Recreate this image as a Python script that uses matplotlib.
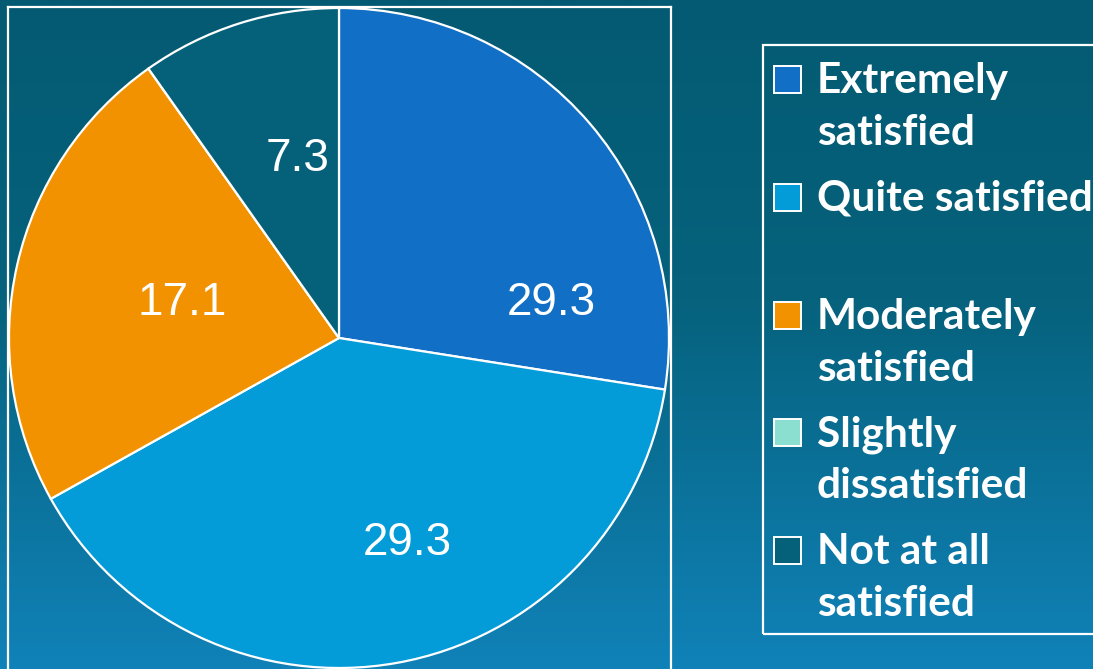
import numpy as np
import matplotlib
matplotlib.use('Agg')
import matplotlib.pyplot as plt
from matplotlib.patches import Rectangle
from matplotlib.colors import LinearSegmentedColormap

# Satisfaction categories, slice shares and printed labels
categories = ['Extremely\nsatisfied', 'Quite satisfied', 'Moderately\nsatisfied',
              'Slightly\ndissatisfied', 'Not at all\nsatisfied']
shares = [27.5, 39.4, 23.3, 0.0, 9.8]
value_labels = ['29.3', '29.3', '17.1', '', '7.3']
colors = ['#1170C6', '#039CD8', '#F39200', '#8ADFD0', '#05617A']

W, H = 1093, 669
fig = plt.figure(figsize=(W / 100, H / 100), dpi=100)

# Background gradient
bg = fig.add_axes([0, 0, 1, 1])
cmap = LinearSegmentedColormap.from_list('bg', [(0, '#045A72'), (0.45, '#06627D'), (1, '#1082B8')])
grad = np.linspace(0, 1, 256).reshape(-1, 1)
bg.imshow(grad, aspect='auto', cmap=cmap, extent=[0, 1, 0, 1], origin='upper')
bg.axis('off')

def px(x, y):
    return x / W, 1 - y / H

# Pie axes in pixel-sized data units
cx, cy, r = 339, 338, 330
left, right, top, bottom = 8, 671, 7, 700
ax = fig.add_axes([left / W, (H - bottom) / H, (right - left) / W, (bottom - top) / H])
ax.patch.set_alpha(0)
ax.pie(shares, colors=colors, startangle=90, counterclock=False, radius=r,
       wedgeprops=dict(edgecolor='white', linewidth=1.6))
ax.set_aspect('auto')
ax.set_xlim(left - cx, right - cx)
ax.set_ylim(cy - bottom, cy - top)
ax.set_frame_on(True)
ax.patch.set_alpha(0)
for s in ax.spines.values():
    s.set_color('white')
    s.set_linewidth(1.6)
ax.set_xticks([])
ax.set_yticks([])

# Value labels (placed by hand, as on the slide)
label_pos = [(212, 35), (68, -205), (-157, 35), (0, 0), (-41, 179)]
for txt, (lx, ly) in zip(value_labels, label_pos):
    if txt:
        ax.text(lx, ly, txt, color='white', fontsize=33, family='Liberation Sans',
                ha='center', va='center')

# Legend box
fig.patches.append(Rectangle(px(763, 634), (1100 - 763) / W, (634 - 45) / H,
                             transform=fig.transFigure, fill=False,
                             edgecolor='white', linewidth=1.6))
step = 117.8
for i, (cat, col) in enumerate(zip(categories, colors)):
    my = 79.5 + i * step
    fig.patches.append(Rectangle(px(774, my + 13.5), 27 / W, 27 / H,
                                 transform=fig.transFigure, facecolor=col,
                                 edgecolor='white', linewidth=1.4))
    for j, line in enumerate(cat.split('\n')):
        bx, by = px(817, 93 + i * step + j * 52)
        fig.text(bx, by, line, color='white', fontsize=30.5, fontweight='bold',
                 family='Lato', va='baseline', ha='left')

fig.savefig('out.png', dpi=100)
